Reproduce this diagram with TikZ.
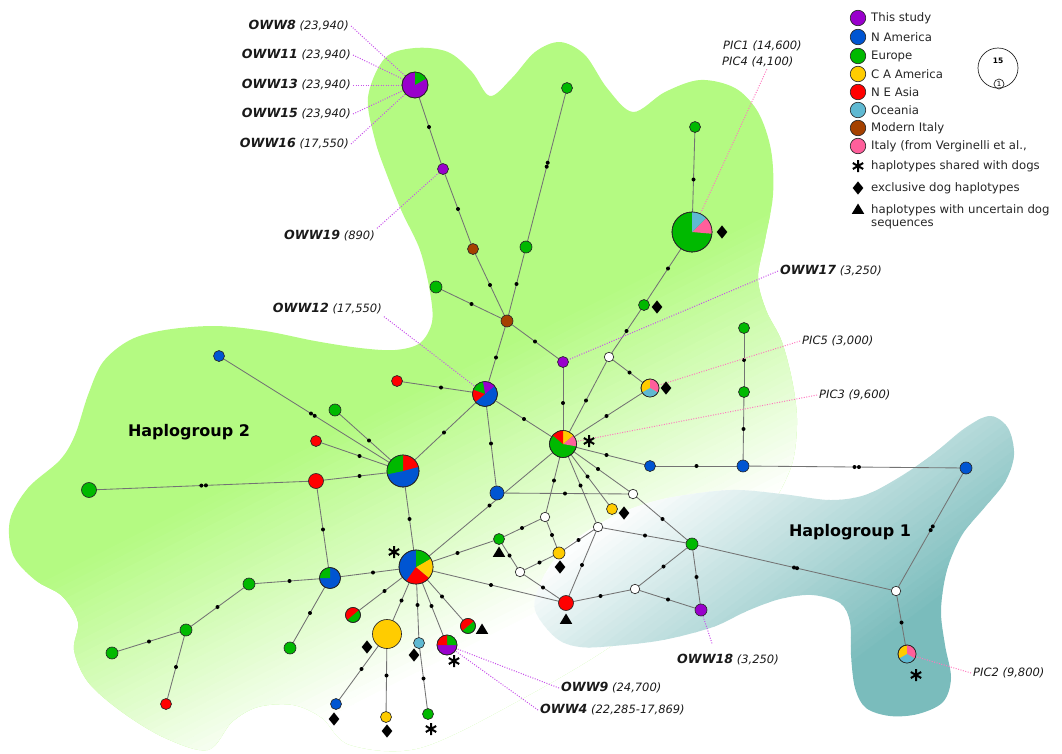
\documentclass[tikz,border=0pt]{standalone}
\usepackage{fontspec}
\setmainfont{DejaVu Sans}
\usetikzlibrary{calc}
\definecolor{cpur}{RGB}{153,0,204}
\definecolor{cblu}{RGB}{0,85,210}
\definecolor{cgrn}{RGB}{0,185,0}
\definecolor{cyel}{RGB}{255,204,0}
\definecolor{cred}{RGB}{255,0,0}
\definecolor{ccya}{RGB}{95,185,210}
\definecolor{cbrn}{RGB}{165,65,0}
\definecolor{cpnk}{RGB}{255,95,155}
\definecolor{hgreen}{RGB}{180,250,130}
\definecolor{hteal}{RGB}{122,188,188}
\definecolor{lpur}{RGB}{200,80,235}
\definecolor{lpnk}{RGB}{255,120,190}
\pgfdeclarelayer{blob}\pgfdeclarelayer{bg}\pgfsetlayers{blob,bg,main}
\tikzset{
 hap/.style={circle, draw=black!85, line width=0.65pt, inner sep=0pt, minimum size=#1},
 edge/.style={draw=black!55, line width=0.85pt},
 mdot/.style={circle, fill=black, inner sep=0pt, minimum size=4pt},
 med/.style={circle, draw=black!85, line width=0.65pt, fill=white, inner sep=0pt, minimum size=9.5pt},
 lab/.style={font=\fontsize{11.5}{13}\selectfont, text=black!90, inner sep=2pt},
 lead/.style={line width=1pt, dash pattern=on 1pt off 1.5pt},
 leg/.style={font=\fontsize{11.7}{13}\selectfont, text=black!85, inner sep=2pt, anchor=west},
}
\newcommand\owb[1]{{\fontsize{12.6}{13}\selectfont\bfseries\itshape #1}}
\newcommand\hnode[5]{\node[hap=#4pt, fill=#5] (#1) at (#2,#3) {};}
\newcommand\hwedge[5]{\fill[#5] (#1.center) -- ++({-(#3)}:#2) arc[start angle={-(#3)}, end angle={-(#4)}, radius=#2] -- cycle;}
\newcommand\hring[2]{\draw[black!85, line width=0.65pt] (#1.center) circle[radius=#2];}
\newcommand\hedge[3][0.5]{\draw[edge] (#2.center) -- (#3.center) node[mdot, pos=#1] (#2#3) {};}
\newcommand\hedged[4]{\draw[edge] (#1.center) -- (#2.center) node[mdot, pos=#3] (#1#2a) {} node[mdot, pos=#4] (#1#2b) {};}
\newcommand\hast[2]{\draw[line width=2pt, shift={(#1,#2)}] (0,-6) -- (0,6) (-5.2,-3) -- (5.2,3) (-5.2,3) -- (5.2,-3);}
\newcommand\hdia[2]{\fill[shift={(#1,#2)}] (0,-6.6) -- (5.3,0) -- (0,6.6) -- (-5.3,0) -- cycle;}
\newcommand\htri[2]{\fill[shift={(#1,#2)}] (0,-5.5) -- (6.2,4.8) -- (-6.2,4.8) -- cycle;}
\begin{document}
\begin{tikzpicture}[x=1pt,y=-1pt]
\useasboundingbox (0,0) rectangle (1062,753);
% ---------------- background blobs
\begin{pgfonlayer}{blob}
\begin{scope}
\clip plot[smooth cycle, tension=0.55] coordinates {(368,97) (385,58) (415,48) (448,52) (472,72) (490,96) (512,78) (535,52) (560,42) (585,55) (607,88) (633,112) (665,92) (700,80) (735,88) (758,112) (771,150) (773,195) (765,240) (758,278) (766,310) (782,342) (793,385) (797,425) (790,470) (760,520) (700,570) (620,640) (520,700) (420,748) (350,745) (322,718) (293,705) (258,707) (232,722) (208,750) (165,738) (122,712) (88,682) (74,650) (78,622) (62,596) (35,580) (13,555) (10,520) (28,488) (60,460) (75,435) (88,395) (103,362) (130,340) (165,330) (215,326) (265,331) (315,341) (360,348) (395,350) (420,343) (432,322) (430,292) (420,250) (402,212) (387,175) (375,140)};
\fill[hgreen] (-10,-10) rectangle (1080,770);
\foreach \i in {0,...,39}{
 \pgfmathsetmacro\pa{540+6.25*\i}
 \pgfmathsetmacro\pb{\pa+6.8}
 \pgfmathtruncatemacro\w{(\i+1)*100/41}
 \fill[white!\w!hgreen] ({0.45*\pa-1335},{0.89*\pa+675}) -- ({0.45*\pa+1335},{0.89*\pa-675}) -- ({0.45*\pb+1335},{0.89*\pb-675}) -- ({0.45*\pb-1335},{0.89*\pb+675}) -- cycle;
}
\fill[white] ({0.45*790-1335},{0.89*790+675}) -- ({0.45*790+1335},{0.89*790-675}) -- ({0.45*2000+1335},{0.89*2000-675}) -- ({0.45*2000-1335},{0.89*2000+675}) -- cycle;
\end{scope}
\begin{scope}
\clip plot[smooth cycle, tension=0.55] coordinates {(535,610) (541,582) (560,553) (592,528) (628,510) (668,498) (730,490) (782,494) (830,500) (865,495) (898,478) (932,455) (965,428) (990,416) (1008,428) (1014,455) (1005,482) (985,507) (962,535) (947,570) (941,610) (945,645) (951,678) (943,702) (918,714) (890,716) (866,708) (855,688) (851,655) (850,622) (840,603) (812,595) (780,599) (747,611) (713,627) (663,640) (613,646) (580,647) (556,638)};
\fill[white] (-10,-10) rectangle (1080,770);
\foreach \i in {0,...,39}{
 \pgfmathsetmacro\pa{780+6.5*\i}
 \pgfmathsetmacro\pb{\pa+7}
 \pgfmathtruncatemacro\w{(\i+1)*100/41}
 \fill[hteal!\w!white] ({0.6*\pa-1200},{0.8*\pa+900}) -- ({0.6*\pa+1200},{0.8*\pa-900}) -- ({0.6*\pb+1200},{0.8*\pb-900}) -- ({0.6*\pb-1200},{0.8*\pb+900}) -- cycle;
}
\fill[hteal] ({0.6*1040-1200},{0.8*1040+900}) -- ({0.6*1040+1200},{0.8*1040-900}) -- ({0.6*2500+1200},{0.8*2500-900}) -- ({0.6*2500-1200},{0.8*2500+900}) -- cycle;
\end{scope}
\end{pgfonlayer}
% ---------------- haplotype nodes
\hnode{p8}{415}{85}{26}{cpur}
\hwedge{p8}{13}{30}{90}{cgrn}\hring{p8}{13}
\hnode{n19}{443}{169}{11}{cpur}
\hnode{br1}{473}{249}{11}{cbrn}
\hnode{brh}{507}{321}{12}{cbrn}
\hnode{gt}{567}{88}{11}{cgrn}
\hnode{gm}{526}{247}{12}{cgrn}
\hnode{gl}{436}{287}{12}{cgrn}
\hnode{pu17}{563}{362}{11}{cpur}
\hnode{p12}{485}{394}{25}{cblu}
\hwedge{p12}{12.5}{40}{100}{cpur}\hwedge{p12}{12.5}{100}{160}{cgrn}\hwedge{p12}{12.5}{160}{220}{cred}\hring{p12}{12.5}
\hnode{rA}{397}{381}{11}{cred}
\hnode{h2}{403}{471}{32}{cblu}
\hwedge{h2}{16}{15}{90}{cred}\hwedge{h2}{16}{90}{192}{cgrn}\hring{h2}{16}
\hnode{bB}{497}{493}{14}{cblu}
\hnode{p3}{563}{444}{27}{cgrn}
\hwedge{p3}{13.5}{-10}{40}{cpnk}\hwedge{p3}{13.5}{40}{90}{cyel}\hwedge{p3}{13.5}{90}{140}{cred}\hring{p3}{13.5}
\node[med] (wA) at (609,357) {};
\hnode{gR1}{644}{305}{11}{cgrn}
\hnode{pbig}{692}{232}{40}{cgrn}
\hwedge{pbig}{20}{-5}{45}{cpnk}\hwedge{pbig}{20}{45}{90}{ccya}\hring{pbig}{20}
\hnode{gR0}{695}{127}{11}{cgrn}
\hnode{p5}{650}{388}{18}{cyel}
\hwedge{p5}{9}{-30}{90}{cpnk}\hwedge{p5}{9}{210}{330}{ccya}\hring{p5}{9}
\hnode{bC}{650}{466}{11}{cblu}
\hnode{bD}{743}{466}{12}{cblu}
\hnode{gC1}{744}{392}{11}{cgrn}
\hnode{gC0}{744}{328}{11}{cgrn}
\hnode{bE}{966}{468}{12}{cblu}
\node[med] (wH1) at (896,591) {};
\hnode{p2}{907}{654}{18}{cyel}
\hwedge{p2}{9}{-30}{90}{cpnk}\hwedge{p2}{9}{210}{330}{ccya}\hring{p2}{9}
\node[med] (wB) at (633,494) {};
\hnode{gD}{692}{544}{12}{cgrn}
\hnode{yA}{612}{509}{11}{cyel}
\node[med] (wC) at (598,527) {};
\node[med] (wD) at (545,517) {};
\hnode{gE}{499}{539}{11}{cgrn}
\hnode{yB}{559}{553}{12}{cyel}
\node[med] (wE) at (520,572) {};
\hnode{rB}{566}{603}{15}{cred}
\node[med] (wF) at (635,589) {};
\hnode{pu18}{701}{610}{12}{cpur}
\hnode{bF}{219}{356}{11}{cblu}
\hnode{gF}{335}{410}{12}{cgrn}
\hnode{rC}{316}{441}{11}{cred}
\hnode{rD}{316}{481}{15}{cred}
\hnode{gG}{89}{490}{15}{cgrn}
\hnode{pbg}{330}{578}{21}{cblu}
\hwedge{pbg}{10.5}{90}{180}{cgrn}\hring{pbg}{10.5}
\hnode{pl}{416}{567}{34}{cblu}
\hwedge{pl}{17}{235}{320}{cred}\hwedge{pl}{17}{-40}{30}{cyel}\hwedge{pl}{17}{30}{90}{cgrn}\hring{pl}{17}
\hnode{gH}{249}{584}{12}{cgrn}
\hnode{gI}{290}{648}{12}{cgrn}
\hnode{gJ}{186}{630}{12}{cgrn}
\hnode{gK}{112}{653}{12}{cgrn}
\hnode{rE}{166}{704}{11}{cred}
\hnode{prg1}{353}{615}{15}{cgrn}
\hwedge{prg1}{7.5}{40}{220}{cred}\hring{prg1}{7.5}
\hnode{yBig}{387}{634}{29}{cyel}
\hnode{bG}{336}{704}{11}{cblu}
\hnode{yC}{386}{717}{11}{cyel}
\hnode{cA}{419}{643}{11}{ccya}
\hnode{gL}{428}{714}{11}{cgrn}
\hnode{p9}{447}{645}{20}{cpur}
\hwedge{p9}{10}{0}{90}{cgrn}\hwedge{p9}{10}{90}{180}{cred}\hring{p9}{10}
\hnode{prg2}{468}{626}{15}{cgrn}
\hwedge{prg2}{7.5}{40}{220}{cred}\hring{prg2}{7.5}
% ---------------- markers
\hast{394}{552}\hast{589}{441}\hast{454}{661}\hast{431}{729}\hast{916}{675}
\hdia{722}{232}\hdia{657}{307}\hdia{666}{388}\hdia{624}{513}\hdia{560}{567}\hdia{367}{647}\hdia{334}{719}\hdia{387}{731}\hdia{414}{655}
\htri{499}{552}\htri{566}{619}\htri{482}{629}
% ---------------- group labels
\node[font=\bfseries\fontsize{16}{18}\selectfont] (hg2) at (189,432) {Haplogroup 2};
\node[font=\bfseries\fontsize{16}{18}\selectfont] (hg1) at (850,532) {Haplogroup 1};
% ---------------- sample labels
\node[lab, anchor=east] (l8) at (351,26) {\owb{OWW8} \textit{(23,940)}};
\node[lab, anchor=east] (l11) at (353,55) {\owb{OWW11} \textit{(23,940)}};
\node[lab, anchor=east] (l13) at (353,85) {\owb{OWW13} \textit{(23,940)}};
\node[lab, anchor=east] (l15) at (353,114) {\owb{OWW15} \textit{(23,940)}};
\node[lab, anchor=east] (l16) at (351,144) {\owb{OWW16} \textit{(17,550)}};
\node[lab, anchor=east] (l19) at (377,236) {\owb{OWW19} \textit{(890)}};
\node[lab, anchor=east] (l12) at (384,309) {\owb{OWW12} \textit{(17,550)}};
\node[lab, anchor=west] (l17) at (778,271) {\owb{OWW17} \textit{(3,250)}};
\node[lab, anchor=west] (lP1) at (721,46) {\textit{PIC1 (14,600)}};
\node[lab, anchor=west] (lP4) at (720,62) {\textit{PIC4 (4,100)}};
\node[lab, anchor=west] (lP5) at (800,341) {\textit{PIC5 (3,000)}};
\node[lab, anchor=west] (lP3) at (817,395) {\textit{PIC3 (9,600)}};
\node[lab, anchor=west] (lP2) at (971,673) {\textit{PIC2 (9,800)}};
\node[lab, anchor=west] (l18) at (675,660) {\owb{OWW18} \textit{(3,250)}};
\node[lab, anchor=west] (l9) at (559,688) {\owb{OWW9} \textit{(24,700)}};
\node[lab, anchor=west] (l4) at (538,710) {\owb{OWW4} \textit{(22,285-17,869)}};
% ---------------- legend
\foreach \yy/\cc/\tt [count=\k] in {18/cpur/This study, 37/cblu/N America, 56/cgrn/Europe, 74/cyel/C A America, 92/cred/N E Asia, 110/ccya/Oceania, 128/cbrn/Modern Italy, 146/cpnk/{Italy (from Verginelli et al.,}}{
 \node[hap=15.5pt, fill=\cc] (lgc\k) at (858,\yy) {};
 \node[leg] (lgt\k) at (869,\yy) {\tt};
}
\hast{858}{166}\hdia{858}{188}\htri{858}{209}
\node[leg] (lgs1) at (869,166) {haplotypes shared with dogs};
\node[leg] (lgs2) at (869,188) {exclusive dog haplotypes};
\node[leg] (lgs3) at (869,210) {haplotypes with uncertain dog};
\node[leg] (lgs4) at (869,224) {sequences};
\node[circle, draw=black!85, line width=0.7pt, minimum size=40pt, inner sep=0pt] (lg15) at (998,68) {};
\node[font=\bfseries\fontsize{7.5}{8}\selectfont, inner sep=0pt] (lg15t) at (998,61) {15};
\node[circle, draw=black!85, line width=0.7pt, minimum size=10pt, inner sep=0pt, font=\fontsize{7}{8}\selectfont] (lg1) at (999,84) {1};
% ---------------- edges
\begin{pgfonlayer}{bg}
\hedge{p8}{n19}\hedge{n19}{br1}\hedge{br1}{brh}\hedged{gt}{gm}{0.47}{0.495}\hedge{gm}{brh}\hedge{gl}{brh}
\hedge{brh}{p12}\hedge{brh}{pu17}\hedge{pu17}{p3}\hedge{rA}{p12}\hedge{p12}{h2}\hedge{p12}{bB}\hedge{p12}{p3}
\hedge{gR0}{pbig}\hedge{pbig}{gR1}\hedge{gR1}{wA}\hedge{wA}{p3}\hedge{wA}{p5}\hedge{p3}{p5}\hedge{p3}{bC}
\hedge{p3}{wB}\hedge{p3}{yA}\hedge{p3}{wC}\hedge{p3}{wD}\hedge{p3}{pl}\hedge{bB}{wB}\hedge{wB}{gD}
\hedge{bC}{bD}\hedge{bD}{gC1}\hedge{gC1}{gC0}\hedged{bD}{bE}{0.5}{0.52}\hedged{bE}{wH1}{0.475}{0.505}
\hedge{wH1}{p2}\hedged{gD}{wH1}{0.5}{0.515}
\hedge{wD}{gE}\hedge{wD}{yB}\hedge{gE}{pl}\hedge{gE}{wE}\hedge{wE}{yB}\hedge{wE}{rB}\hedge{pl}{rB}
\hedge{wC}{yB}\hedge{wC}{rB}\hedge{wC}{gD}\hedge{rB}{wF}\hedge{wF}{gD}\hedge{wF}{pu18}\hedge{gD}{pu18}
\hedged{h2}{bF}{0.48}{0.50}\hedge{h2}{gF}\hedge{h2}{rC}\hedge{h2}{rD}\hedged{rD}{gG}{0.485}{0.505}
\hedge{rD}{pbg}\hedge{h2}{pl}\hedge{pl}{pbg}\hedge{pbg}{gH}\hedge{pbg}{gI}\hedge{gH}{gJ}\hedge{gJ}{gK}
\hedge{gJ}{rE}\hedge{pl}{prg1}\hedge{pl}{yBig}\hedge{yBig}{bG}\hedge{yBig}{yC}\hedge{pl}{cA}\hedge{cA}{gL}
\hedge{pl}{p9}\hedge{pl}{prg2}
% leaders
\draw[lead, lpur] (l8.east) -- (p8);
\draw[lead, lpur] (l11.east) -- (p8);
\draw[lead, lpur] (l13.east) -- (p8);
\draw[lead, lpur] (l15.east) -- (p8);
\draw[lead, lpur] (l16.east) -- (p8);
\draw[lead, lpur] (l19.north east) -- (n19);
\draw[lead, lpur] (l12.south east) -- (p12);
\draw[lead, lpur] (l17.west) -- (pu17);
\draw[lead, lpnk] ([xshift=9pt]lP4.south) -- (pbig);
\draw[lead, lpnk] (lP5.west) -- (p5);
\draw[lead, lpnk] (lP3.west) -- (p3);
\draw[lead, lpnk] (lP2.west) -- (p2);
\draw[lead, lpur] ([shift={(-16,-9)}]l18.north) -- (pu18);
\draw[lead, lpur] (l9.west) -- (p9);
\draw[lead, lpur] (l4.west) -- (p9);
\end{pgfonlayer}
\end{tikzpicture}
\end{document}
